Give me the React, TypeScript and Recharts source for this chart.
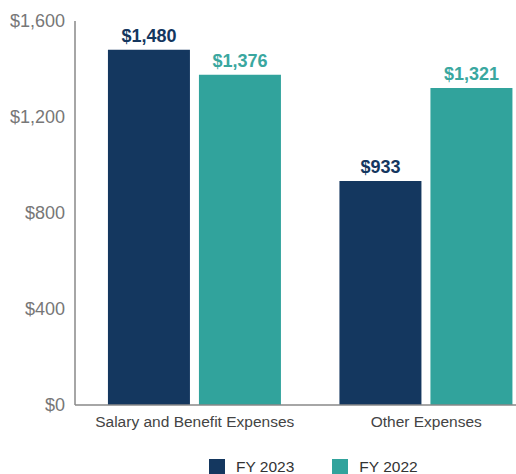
import React from "react";
import { BarChart, Bar, XAxis, YAxis, Legend, LabelList } from "recharts";

const categories = ["Salary and Benefit Expenses", "Other Expenses"];
const fy2023 = [1480, 933];
const fy2022 = [1376, 1321];
const yTicks = [0, 400, 800, 1200, 1600];

const NAVY = "#14375f";
const TEAL = "#31a39c";
const FONT = "'Liberation Sans', Arial, Helvetica, sans-serif";

const data = categories.map((name, i) => ({
  name,
  fy2023: fy2023[i],
  fy2022: fy2022[i],
}));

const money = (v: number) => "$" + v.toLocaleString("en-US");

function LegendContent() {
  const item = (color: string, label: string, mr: number) => (
    <div style={{ display: "flex", alignItems: "center", marginRight: mr }}>
      <div style={{ width: 16, height: 16, background: color, marginRight: 11 }} />
      <span style={{ fontSize: 15.5, color: "#333", lineHeight: "16px" }}>{label}</span>
    </div>
  );
  return (
    <div style={{ display: "flex", paddingLeft: 209, paddingTop: 24, fontFamily: FONT }}>
      {item(NAVY, "FY 2023", 38)}
      {item(TEAL, "FY 2022", 0)}
    </div>
  );
}

export default function App() {
  return (
    <div
      style={{
        position: "absolute",
        left: 0,
        top: 0,
        width: 516,
        height: 474,
        overflow: "hidden",
        fontFamily: FONT,
      }}
    >
      <BarChart
        width={542}
        height={474}
        data={data}
        margin={{ top: 21, right: 0, bottom: 0, left: 0 }}
        barCategoryGap="12.5%"
        barGap={9}
      >
        <XAxis
          dataKey="name"
          height={30}
          tickLine={false}
          axisLine={{ stroke: "#888", strokeWidth: 1.5 }}
          tick={{ fill: "#444", fontSize: 15.5, fontFamily: FONT }}
          padding={{ left: 4, right: 0 }}
          tickMargin={5}
        />
        <YAxis
          width={75}
          domain={[0, 1600]}
          ticks={yTicks}
          tickFormatter={money}
          tickLine={false}
          axisLine={{ stroke: "#888", strokeWidth: 1.5 }}
          tick={{ fill: "#777", fontSize: 18, fontFamily: FONT }}
          tickMargin={4}
        />
        <Legend verticalAlign="bottom" height={39} content={<LegendContent />} />
        <Bar dataKey="fy2023" fill={NAVY} isAnimationActive={false}>
          <LabelList
            dataKey="fy2023"
            position="top"
            offset={8}
            formatter={(v: number) => money(v)}
            style={{ fill: NAVY, fontSize: 18, fontWeight: 700, fontFamily: FONT }}
          />
        </Bar>
        <Bar dataKey="fy2022" fill={TEAL} isAnimationActive={false}>
          <LabelList
            dataKey="fy2022"
            position="top"
            offset={8}
            formatter={(v: number) => money(v)}
            style={{ fill: "#3aa79f", fontSize: 18, fontWeight: 700, fontFamily: FONT }}
          />
        </Bar>
      </BarChart>
    </div>
  );
}
